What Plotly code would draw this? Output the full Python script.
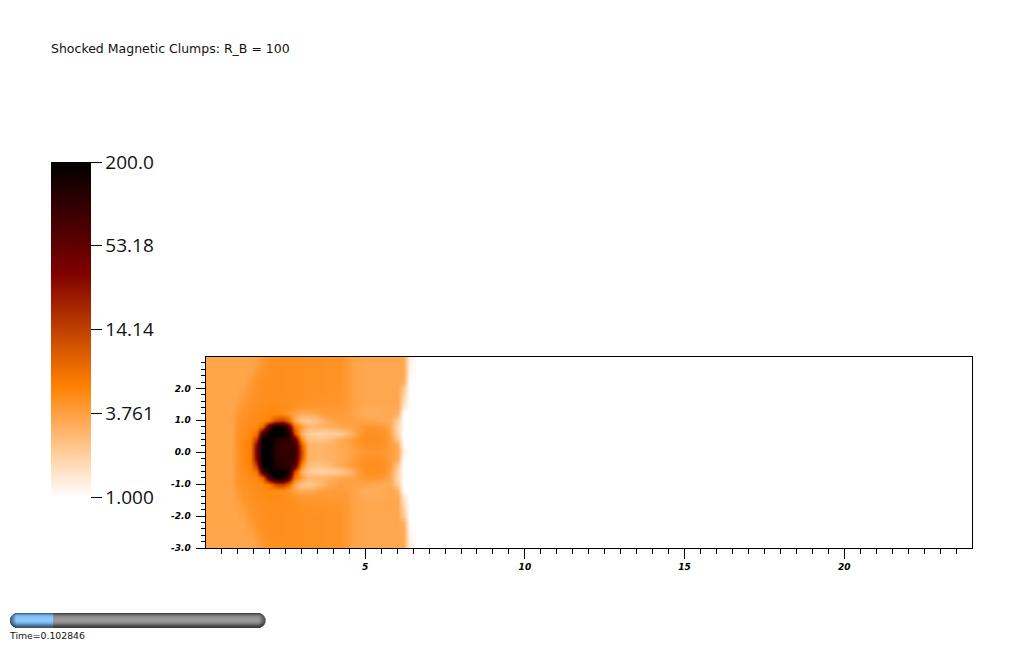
import math
import plotly.graph_objects as go

W, H = 1024, 645

title_text = "Shocked Magnetic Clumps: R_B = 100"
time_text = "Time=0.102846"
time_fraction = 0.169

x_grid = [0, .2, .4, .6, .8, 1.0, 1.2, 1.4, 1.6, 1.8, 2.0, 2.2, 2.4, 2.6, 2.8, 3.0, 3.2,
          3.4, 3.6, 3.8, 4.0, 4.2, 4.4, 4.6, 4.8, 5.0, 5.2, 5.4, 5.6, 5.8, 6.0, 6.2, 6.4, 6.6, 6.8, 24]

# Upper half of the field, rows y = 0.0, 0.2 ... 3.0 (the picture is mirror-symmetric about y = 0)
y_upper = [0, .2, .4, .6, .8, 1.0, 1.2, 1.4, 1.6, 1.8, 2.0, 2.2, 2.4, 2.6, 2.8, 3.0]
rows_upper = [
 [3.5,3.5,3.5,3.5,3.5,4.6,5.1,6.0,40,200,200,110,100,100,100,12,3.0,2.8,2.8,2.9,3.0,3.2,3.4,3.6,3.9,4.2,4.3,4.3,4.2,3.8,3.3,1.25,1,1,1,1],
 [3.5,3.5,3.5,3.5,3.5,4.6,5.1,6.0,35,200,200,115,100,100,100,10,3.0,2.8,2.8,2.9,3.0,3.3,3.5,3.8,4.2,4.5,4.6,4.6,4.4,3.8,3.3,1.0,1,1,1,1],
 [3.5,3.5,3.5,3.5,3.5,4.5,5.0,5.8,16,200,200,135,105,105,60,5,2.5,2.35,2.35,2.45,2.8,3.2,3.6,4.0,4.5,4.8,4.8,4.8,4.6,3.9,2.2,1.0,1,1,1,1],
 [3.5,3.5,3.5,3.5,3.5,4.4,4.8,5.4,7,80,200,200,200,150,12,3,2.1,1.9,1.85,1.9,1.95,2.1,2.4,3.0,4.0,4.6,4.7,4.7,4.5,3.5,1.8,1.0,1,1,1,1],
 [3.5,3.5,3.5,3.5,3.5,4.4,4.7,5.0,5.2,8,80,200,200,60,7,4.0,2.7,2.7,2.8,2.9,3.1,3.3,3.5,3.6,3.9,4.3,4.4,4.3,4.0,3.2,1.7,1,1,1,1,1],
 [3.5,3.5,3.5,3.5,3.6,4.3,4.6,4.8,5.0,5.2,6,12,14,8,3.2,2.2,2.1,2.3,2.7,3.2,3.6,3.8,3.8,3.7,3.6,3.5,3.4,3.3,3.2,3.1,2.0,1.0,1,1,1,1],
 [3.5,3.5,3.5,3.5,3.5,4.0,4.5,4.7,4.9,5.0,5.1,5.0,4.8,4.3,3.6,3.2,3.2,3.4,3.7,3.9,4.0,4.0,3.8,3.6,3.3,3.1,3.1,3.2,3.3,3.3,3.0,1.0,1,1,1,1],
 [3.5,3.5,3.5,3.5,3.5,3.9,4.3,4.6,4.8,4.9,5.0,5.0,4.9,4.8,4.5,4.2,4.1,4.1,4.1,4.1,4.1,4.1,4.0,3.6,3.4,3.2,3.2,3.2,3.3,3.3,3.3,1.4,1,1,1,1],
 [3.5,3.5,3.5,3.5,3.5,3.6,4.2,4.5,4.7,4.8,4.9,4.9,4.8,4.8,4.7,4.5,4.4,4.4,4.4,4.4,4.3,4.3,4.1,3.6,3.5,3.4,3.4,3.4,3.4,3.4,3.4,1.6,1,1,1,1],
 [3.5,3.5,3.5,3.5,3.5,3.5,3.8,4.4,4.6,4.7,4.8,4.8,4.8,4.7,4.7,4.6,4.6,4.5,4.5,4.5,4.4,4.4,4.1,3.6,3.5,3.4,3.4,3.4,3.4,3.4,3.4,1.9,1,1,1,1],
 [3.5,3.5,3.5,3.5,3.5,3.5,3.7,4.3,4.6,4.7,4.8,4.8,4.8,4.7,4.7,4.7,4.6,4.6,4.6,4.5,4.5,4.5,4.1,3.6,3.5,3.4,3.4,3.4,3.4,3.4,3.4,2.2,1,1,1,1],
 [3.5,3.5,3.5,3.5,3.5,3.5,3.5,4.0,4.5,4.7,4.8,4.8,4.8,4.7,4.7,4.7,4.6,4.6,4.6,4.5,4.5,4.5,4.1,3.6,3.5,3.4,3.4,3.4,3.4,3.4,3.4,3.0,1,1,1,1],
 [3.5,3.5,3.5,3.5,3.5,3.5,3.5,3.7,4.3,4.6,4.7,4.8,4.8,4.7,4.7,4.7,4.6,4.6,4.6,4.5,4.5,4.5,4.1,3.6,3.5,3.4,3.4,3.4,3.4,3.4,3.4,3.3,1.1,1,1,1],
 [3.5,3.5,3.5,3.5,3.5,3.5,3.5,3.5,4.0,4.5,4.7,4.8,4.8,4.7,4.7,4.7,4.6,4.6,4.6,4.5,4.5,4.5,4.1,3.6,3.5,3.4,3.4,3.4,3.4,3.4,3.4,3.3,1.15,1,1,1],
 [3.5,3.5,3.5,3.5,3.5,3.5,3.5,3.5,3.7,4.3,4.6,4.7,4.7,4.7,4.7,4.7,4.6,4.6,4.6,4.5,4.5,4.5,4.1,3.6,3.5,3.4,3.4,3.4,3.4,3.4,3.4,3.3,1.2,1,1,1],
 [3.5,3.5,3.5,3.5,3.5,3.5,3.5,3.5,3.6,4.1,4.5,4.7,4.7,4.7,4.7,4.7,4.6,4.6,4.6,4.5,4.5,4.5,4.1,3.6,3.5,3.4,3.4,3.4,3.4,3.4,3.4,3.3,1.25,1,1,1],
]

cbar_ticks = [1.0, 3.761, 14.14, 53.18, 200.0]
cbar_labels = ["1.000", "3.761", "14.14", "53.18", "200.0"]
x_ticks = [5, 10, 15, 20]
y_ticks = [-3, -2, -1, 0, 1, 2]
y_labels = ["-3.0", "-2.0", "-1.0", "0.0", "1.0", "2.0"]

y_grid = [-v for v in reversed(y_upper[1:])] + y_upper
rows = list(reversed(rows_upper[1:])) + rows_upper
z_log = [[math.log10(v) for v in r] for r in rows]

colorscale = [[0, "#ffffff"], [1/3, "#ff8000"], [2/3, "#800000"], [1, "#000000"]]


def px(v):
    return v / W


def py(v):
    return 1 - v / H


fig = go.Figure(go.Heatmap(
    x=x_grid, y=y_grid, z=z_log, zsmooth="best",
    zmin=0, zmax=math.log10(200), colorscale=colorscale, hoverinfo="skip",
    colorbar=dict(
        x=px(51), xanchor="left", y=py(162), yanchor="top",
        thicknessmode="pixels", thickness=40, lenmode="fraction", len=335 / H,
        xpad=0, ypad=0, outlinewidth=0, borderwidth=0,
        tickmode="array", tickvals=[math.log10(v) for v in cbar_ticks], ticktext=cbar_labels,
        ticks="outside", ticklen=11, tickwidth=1, tickcolor="#000000",
        tickfont=dict(family="Open Sans", size=19, color="#111111"),
    ),
))

tick_font = dict(family="DejaVu Sans", size=9, color="#000000", weight="bold", style="italic")
fig.update_xaxes(
    domain=[px(205.5), px(972)], range=[0, 24], showgrid=False, zeroline=False,
    showline=True, mirror=True, linecolor="#000000", linewidth=1,
    tickmode="array", tickvals=x_ticks, ticks="outside", ticklen=10, tickwidth=1,
    tickfont=tick_font, tickcolor="#000000",
    minor=dict(tickmode="array", tickvals=[i * .5 for i in range(1, 48)], ticks="outside",
               ticklen=5, tickwidth=1, tickcolor="#000000", showgrid=False),
)
fig.update_yaxes(
    domain=[py(548), py(356.5)], range=[-3, 3], showgrid=False, zeroline=False,
    showline=True, mirror=True, linecolor="#000000", linewidth=1,
    tickmode="array", tickvals=y_ticks, ticktext=y_labels, ticks="outside", ticklen=9, tickwidth=1,
    tickfont=tick_font, tickcolor="#000000", ticklabelstandoff=3,
    minor=dict(tickmode="array", tickvals=[-3 + i * .2 for i in range(1, 30)], ticks="outside",
               ticklen=4, tickwidth=1, tickcolor="#000000", showgrid=False),
)

# Time slider: capsule built from one-pixel rows, with darker columns at its rounded ends
greys = [70, 95, 120, 135, 145, 150, 152, 152, 150, 140, 125, 105, 85, 70, 60]
blues = ["#3f6a93", "#5a8fc2", "#74aee6", "#82bdf5", "#88c4fb", "#8cc7ff", "#8cc7ff", "#8cc7ff",
         "#88c4fb", "#80baf2", "#70a8de", "#5b8dbd", "#4b7399", "#3f6282", "#3a5670"]
left, right, top = 10, 265.5, 613
radius = 7.5
shapes = []
split = left + (right - left) * time_fraction
for i, g in enumerate(greys):
    d = abs(i + .5 - radius)
    inset = radius - math.sqrt(max(radius ** 2 - d ** 2, 0))
    a, b = left + inset, right - inset
    common = dict(type="rect", xref="paper", yref="paper", y0=py(top + i), y1=py(top + i + 1),
                  line=dict(width=0), layer="above")
    shapes.append(dict(x0=px(a), x1=px(b), fillcolor=f"rgb({g},{g},{g})", **common))
    shapes.append(dict(x0=px(a), x1=px(split), fillcolor=blues[i], **common))
for k in range(6):
    d = radius - k - .5
    half = math.sqrt(max(radius ** 2 - d ** 2, 0))
    shade = f"rgba(0,0,0,{.09 * (6 - k):.2f})"
    for c0 in (left + k, right - k - 1):
        shapes.append(dict(type="rect", xref="paper", yref="paper", x0=px(c0), x1=px(c0 + 1),
                           y0=py(top + radius - half), y1=py(top + radius + half),
                           line=dict(width=0), fillcolor=shade, layer="above"))

text_font = dict(family="DejaVu Sans", size=12.5, color="#111111")
fig.update_layout(
    width=W, height=H, margin=dict(l=0, r=0, t=0, b=0, autoexpand=False),
    paper_bgcolor="#ffffff", plot_bgcolor="#ffffff", showlegend=False, shapes=shapes,
    annotations=[
        dict(text=title_text, x=px(51), y=py(48), xref="paper", yref="paper", xanchor="left",
             yanchor="middle", showarrow=False, font=text_font, xshift=-2),
        dict(text=time_text, x=px(10), y=py(635), xref="paper", yref="paper", xanchor="left",
             yanchor="middle", showarrow=False, font=dict(family="DejaVu Sans", size=9.3, color="#111111"),
             xshift=-3),
    ],
)

fig.write_html("out.html", config=dict(displayModeBar=False),
               post_script="document.body.style.margin='0';document.body.style.overflow='hidden';")
